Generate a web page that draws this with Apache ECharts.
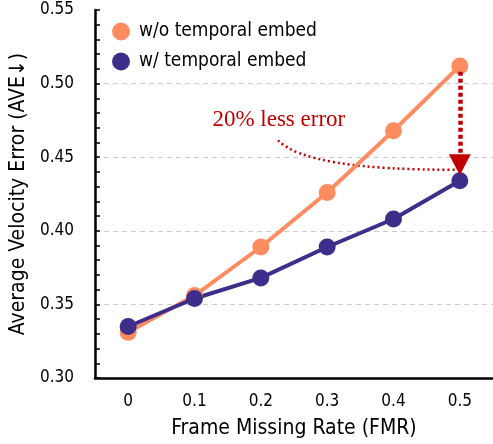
<!DOCTYPE html>
<html lang="en">
<head>
    <meta charset="UTF-8">
    <title></title>
    <script src="https://cdn.jsdelivr.net/npm/echarts@6/dist/echarts.min.js"></script>
    <style>
        html, body { margin: 0; padding: 0; background: #fff; }
        #main { width: 493px; height: 444px; }
    </style>
</head>
<body>
<div id="main"></div>
<script>
    // data
    var fmr = ['0', '0.1', '0.2', '0.3', '0.4', '0.5'];
    var withoutEmbed = [0.331, 0.356, 0.389, 0.426, 0.468, 0.512];
    var withEmbed = [0.335, 0.354, 0.368, 0.389, 0.408, 0.434];
    var seriesNames = ['w/o temporal embed', 'w/ temporal embed'];

    var orange = '#fd8c60';
    var purple = '#3f2d8b';
    var red = '#c00000';
    var font = '"DejaVu Sans Condensed", "DejaVu Sans", sans-serif';

    var myChart = echarts.init(document.getElementById('main'));

    var option = {
        animation: false,
        grid: { left: 93, right: 0, top: 10, bottom: 66 },
        legend: {
            data: seriesNames,
            orient: 'vertical',
            left: 107,
            top: 17,
            itemWidth: 26,
            itemHeight: 18,
            itemGap: 11,
            icon: 'circle',
            textStyle: { fontFamily: font, fontSize: 19, color: '#000' }
        },
        xAxis: {
            type: 'category',
            data: fmr,
            name: 'Frame Missing Rate (FMR)',
            nameLocation: 'middle',
            nameGap: 40,
            nameTextStyle: { fontFamily: font, fontSize: 21, color: '#000' },
            axisLine: { lineStyle: { color: '#000', width: 2.5 } },
            axisTick: { inside: true, alignWithLabel: true, length: 4, lineStyle: { color: '#000', width: 1.5 } },
            axisLabel: { fontFamily: font, fontSize: 17, color: '#000', margin: 15 },
            splitLine: { show: false }
        },
        yAxis: {
            type: 'value',
            min: 0.30,
            max: 0.55,
            interval: 0.05,
            name: 'Average Velocity Error (AVE\u2193)',
            nameLocation: 'middle',
            nameGap: 66,
            nameTextStyle: { fontFamily: font, fontSize: 21, color: '#000' },
            axisLine: { show: true, lineStyle: { color: '#000', width: 2.5 } },
            axisTick: { show: true, inside: true, length: 5, lineStyle: { color: '#000', width: 1.5 } },
            minorTick: { show: true, splitNumber: 5, length: 5, lineStyle: { color: '#000', width: 1.5 } },
            axisLabel: {
                fontFamily: font, fontSize: 17, color: '#000', margin: 21,
                formatter: function (v) { return v.toFixed(2); }
            },
            splitLine: {
                show: true,
                lineStyle: {
                    type: [5, 4],
                    width: 1.2,
                    color: ['#cccccc', '#cccccc', '#cccccc', '#cccccc', '#cccccc', 'rgba(0,0,0,0)']
                }
            }
        },
        series: [
            {
                name: seriesNames[0],
                type: 'line',
                data: withoutEmbed,
                symbol: 'circle',
                symbolSize: 17,
                itemStyle: { color: orange },
                lineStyle: { color: orange, width: 4 },
                markLine: {
                    silent: true,
                    symbol: ['none', 'triangle'],
                    symbolSize: [22, 21],
                    label: { show: false },
                    lineStyle: { color: red, width: 4.5, type: [4, 3] },
                    data: [[{ coord: ['0.5', 0.508] }, { coord: ['0.5', 0.4449] }]]
                }
            },
            {
                name: seriesNames[1],
                type: 'line',
                data: withEmbed,
                symbol: 'circle',
                symbolSize: 17,
                itemStyle: { color: purple },
                lineStyle: { color: purple, width: 4 }
            }
        ]
    };

    myChart.setOption(option);

    // annotation: pixel point from (category index, value), index may be fractional
    function toPx(idx, val) {
        var i0 = Math.floor(idx);
        var a = myChart.convertToPixel({ gridIndex: 0 }, [i0, val]);
        var b = myChart.convertToPixel({ gridIndex: 0 }, [i0 + 1, val]);
        return [a[0] + (b[0] - a[0]) * (idx - i0), a[1]];
    }

    var p0 = toPx(2.26, 0.4615);
    var cp = toPx(2.7, 0.441);
    var p2 = toPx(4.96, 0.4415);
    var txt = toPx(1.27, 0.4755);

    myChart.setOption({
        graphic: [
            {
                type: 'bezierCurve',
                silent: true,
                shape: { x1: p0[0], y1: p0[1], cpx1: cp[0], cpy1: cp[1], x2: p2[0], y2: p2[1] },
                style: { stroke: red, lineWidth: 2.5, lineDash: [2, 3], fill: null }
            },
            {
                type: 'text',
                silent: true,
                x: txt[0],
                y: txt[1],
                style: {
                    text: '20% less error',
                    fill: red,
                    font: '23px "Liberation Serif"',
                    textVerticalAlign: 'middle'
                }
            }
        ]
    });
</script>
</body>
</html>
